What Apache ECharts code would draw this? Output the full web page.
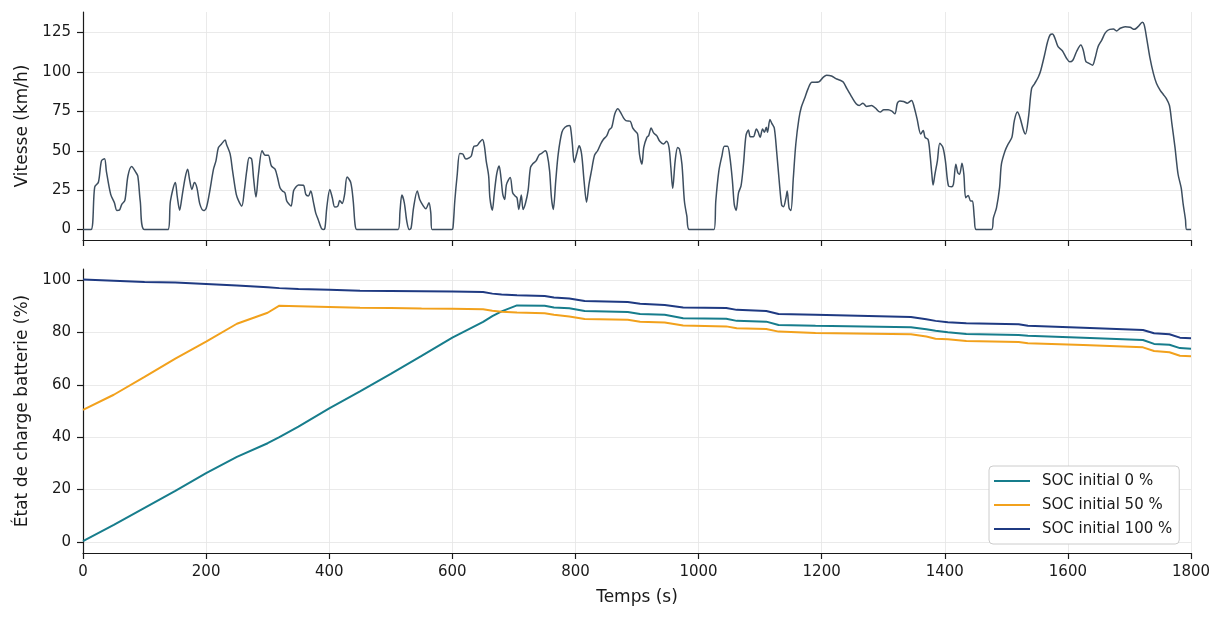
<!DOCTYPE html>
<html>
<head>
<meta charset="utf-8">
<script src="https://cdn.jsdelivr.net/npm/echarts@6/dist/echarts.min.js"></script>
<style>
html,body{margin:0;padding:0;background:#ffffff;}
#chart{width:1224px;height:620px;}
</style>
</head>
<body>
<div id="chart"></div>
<script>
// ---- Data ----
const speedTime = [0,13,19,25,30,35,38,45,51,55,59,63,68,73,79,85,89,93,100,138,142,150,153,157,161,166,170,173,177,181,185,190,196,200,205,212,216,220,225,231,233,239,243,249,253,258,262,266,270,274,277,281,285,291,296,301,306,312,316,320,324,328,331,335,338,342,345,350,358,362,366,370,374,378,382,387,390,393,396,401,405,409,414,417,421,425,429,435,439,442,445,512,515,518,522,526,530,533,537,543,547,553,557,562,565,567,599,601,604,608,612,617,622,628,631,635,640,644,649,652,655,659,661,665,668,672,676,679,682,685,688,694,698,702,705,708,712,715,719,723,727,731,736,741,745,751,754,758,761,764,768,772,778,783,790,792,795,798,802,806,810,814,818,822,826,831,836,841,845,851,855,859,864,869,873,878,882,889,893,897,901,904,908,911,916,919,923,927,932,937,943,948,952,955,958,962,966,969,973,977,981,985,1025,1028,1033,1038,1042,1047,1051,1055,1058,1061,1065,1069,1073,1077,1081,1084,1089,1094,1097,1100,1104,1107,1110,1112,1116,1119,1123,1127,1131,1135,1138,1142,1144,1147,1150,1154,1158,1163,1167,1173,1178,1184,1195,1202,1208,1216,1223,1230,1235,1241,1249,1256,1261,1267,1273,1281,1287,1295,1301,1308,1314,1319,1323,1327,1333,1339,1346,1350,1355,1361,1365,1368,1373,1376,1379,1381,1384,1388,1392,1397,1401,1406,1411,1414,1418,1421,1424,1428,1431,1434,1438,1442,1445,1448,1451,1476,1479,1484,1489,1492,1498,1503,1509,1513,1518,1522,1528,1531,1536,1541,1546,1552,1556,1562,1567,1571,1575,1579,1584,1591,1598,1603,1608,1614,1621,1625,1629,1633,1640,1644,1649,1655,1661,1668,1674,1679,1685,1693,1701,1708,1714,1721,1724,1728,1733,1739,1744,1750,1755,1760,1765,1769,1774,1779,1784,1787,1791,1793,1800];
const speedValue = [0,0,27,30,43.6,45,37,22.3,17,12.1,12.3,16,18.5,34,40,36.8,34,18,0,0,18,29.8,21.3,12.3,21.3,33,38.3,32,25.5,29.8,26.6,16,12.1,13.4,22.3,38.3,43.6,52,54.3,56.8,54.3,48,37.2,22.3,18.1,14.9,24.5,37.2,45.7,44.7,33,20.6,35.1,50,47.2,47.2,40.4,38.3,33,26.6,24.5,23.4,18.1,16,14.9,24.5,26.6,28.3,28.1,22.3,21.3,24.5,18.1,10.6,6.4,1,0,1,13.8,25.5,20.2,14.3,14.9,18.5,16.6,22.3,33.4,29.8,18.1,3.2,0,0,11.7,21.9,17,5.3,0,1,13.8,24.5,19.1,14.9,13.2,17,10.6,0,0,1,18.1,35.1,48.3,47.9,44.7,45.7,46.8,52.8,53.2,55.3,57.2,53.2,43.6,34,20.2,12.3,22.3,35.1,40.4,33,22.3,19.1,28.7,33,23.4,21.3,20.2,12.8,21.9,12.8,17,24.5,39.4,41.9,43.6,47.4,48.3,50,47.9,37.2,20.2,12.8,30.9,47.9,61.7,64.9,66,64.9,54.3,42.6,47.9,53.2,47.9,30.9,17.4,28.7,37.2,47.2,50,54.3,57,59.6,63.4,64.9,73.4,76.6,74.5,70.9,69.1,68.7,64.5,62.5,60.6,47.9,41.5,52.1,58.5,59.6,64.5,61.3,59.6,56,54.3,56,52.1,39.4,26,43.6,52.1,51,41.5,18.1,8.5,0,0,18.1,37.2,46.8,52.8,52.8,45.7,30.9,16,12.1,23.4,27.7,41.5,59.6,63.2,58.9,58.9,63.8,61.7,58.5,63.8,61.7,64.9,61.7,69.8,67.4,64.5,48.9,30.9,15.5,14.5,20.2,24.5,13.8,12.1,33,54.3,70.2,77.7,84,89.4,93.4,93.6,96.4,97.9,97.4,95.7,94.7,93.6,89.4,84,79.8,78.7,80.2,78.1,78.7,77.2,74.5,76,76,75.1,73.4,80.2,81.5,81.3,80.2,81.9,78.1,70.2,60.6,62.8,58.5,57,47.9,35.1,28.3,35.1,43.6,54.7,52.1,43.6,27.7,27.2,28.7,41.5,36.2,35.1,42.1,35.1,20.2,21.7,18.1,18.1,7.4,0,0,7.4,13.8,26.6,41.5,50,54.3,58.5,69.1,74.5,71.3,62.8,60.6,71.3,89.4,92.6,96.8,101.1,110.6,119.1,123.4,124,121.3,116,113.4,108.5,106.4,107.4,112.8,117,113.8,106.8,105.7,104.3,108.5,116,120.2,124.9,127,127.2,126,127.7,128.7,128.3,127,128.7,131.5,129.8,121.3,109.6,98.9,92.6,88.3,85.7,83,78.7,67,52.1,35.1,26.6,17,6.4,0,0];

const socTime = [0,50,100,150,200,250,300,319,350,400,450,500,550,600,650,665,680,705,750,765,790,815,885,905,945,975,1045,1062,1110,1130,1190,1345,1370,1385,1405,1435,1520,1535,1625,1722,1740,1765,1782,1800];
const socFrom0   = [0.3,6.5,13.0,19.5,26.3,32.5,37.7,40.0,44.0,51.0,57.5,64.2,71.0,78.0,84.0,86.2,88.0,90.3,90.2,89.5,89.2,88.2,87.8,87.0,86.7,85.4,85.2,84.4,84.1,82.8,82.5,82.0,81.2,80.6,80.1,79.4,79.0,78.7,78.0,77.1,75.6,75.3,74.0,73.8];
const socFrom50  = [50.4,56.2,63.0,70.0,76.5,83.3,87.5,90.2,90.0,89.7,89.4,89.3,89.1,89.0,88.8,88.3,87.9,87.6,87.3,86.7,86.1,85.1,84.8,84.1,83.8,82.6,82.3,81.6,81.3,80.3,79.8,79.3,78.4,77.6,77.4,76.7,76.3,75.9,75.2,74.3,72.9,72.4,71.1,70.9];
const socFrom100 = [100.2,99.7,99.2,99.0,98.5,97.9,97.2,96.9,96.6,96.3,95.9,95.8,95.7,95.6,95.4,94.8,94.5,94.2,93.9,93.3,92.9,92.0,91.6,90.9,90.5,89.5,89.3,88.6,88.2,87.0,86.7,85.9,85.0,84.4,83.9,83.5,83.1,82.5,81.8,80.9,79.7,79.3,78.0,77.8];

const seriesNames = ['SOC initial 0 %','SOC initial 50 %','SOC initial 100 %'];
const speedTicks = [0,25,50,75,100,125];
const socTicks = [0,20,40,60,80,100];

// ---- Chart ----
const FONT = 'DejaVu Sans';
const INK = '#1a1a1a';
const pairs = (xs, ys) => xs.map((x, i) => [x, ys[i]]);

const axisLineStyle = { color: INK, width: 1.2 };
const gridLineStyle = { color: '#e4e4e4', width: 0.8 };

function xAxisCfg(gridIndex, showLabels) {
  return {
    type: 'value', gridIndex: gridIndex, min: 0, max: 1800, interval: 200,
    axisLine: { show: true, onZero: false, lineStyle: axisLineStyle },
    axisTick: { show: true, inside: false, length: 6, lineStyle: axisLineStyle },
    axisLabel: { show: showLabels, margin: 12, color: INK, fontSize: 15, fontFamily: FONT,
                 formatter: v => String(v) },
    splitLine: { show: true, lineStyle: gridLineStyle }
  };
}
function yAxisCfg(gridIndex, min, max, ticks, name) {
  return {
    type: 'value', gridIndex: gridIndex, min: min, max: max,
    name: name, nameLocation: 'middle', nameGap: 52, nameRotate: 90,
    nameTextStyle: { color: INK, fontSize: 17, fontFamily: FONT },
    axisLine: { show: true, onZero: false, lineStyle: axisLineStyle },
    axisTick: { show: true, inside: false, length: 6, lineStyle: axisLineStyle, customValues: ticks },
    axisLabel: { show: true, margin: 12, color: INK, fontSize: 15, fontFamily: FONT, customValues: ticks,
                 formatter: v => String(v) },
    splitLine: { show: true, lineStyle: gridLineStyle }
  };
}

const xBottom = xAxisCfg(1, true);
xBottom.name = 'Temps (s)';
xBottom.nameLocation = 'middle';
xBottom.nameGap = 36;
xBottom.nameTextStyle = { color: INK, fontSize: 17, fontFamily: FONT, verticalAlign: 'top' };

const option = {
  animation: false,
  backgroundColor: '#ffffff',
  textStyle: { fontFamily: FONT },
  grid: [
    { left: 83, top: 12, width: 1108, height: 228 },
    { left: 83, top: 269, width: 1108, height: 284 }
  ],
  xAxis: [ xAxisCfg(0, false), xBottom ],
  yAxis: [
    yAxisCfg(0, -6.6, 138, speedTicks, 'Vitesse (km/h)'),
    yAxisCfg(1, -4.2, 104.2, socTicks, 'État de charge batterie (%)')
  ],
  legend: {
    data: seriesNames,
    orient: 'vertical',
    left: 989, top: 466,
    padding: [7, 7, 7, 5],
    icon: 'rect',
    itemWidth: 36, itemHeight: 2, itemGap: 8,
    backgroundColor: '#ffffff',
    borderColor: '#cccccc', borderWidth: 1, borderRadius: 4,
    textStyle: { color: INK, fontSize: 15, fontFamily: FONT, lineHeight: 16, padding: [0, 0, 0, 7] }
  },
  series: [
    {
      name: 'Vitesse', type: 'line', xAxisIndex: 0, yAxisIndex: 0,
      data: pairs(speedTime, speedValue), showSymbol: false, symbol: 'none', smooth: 0.3,
      lineStyle: { color: '#3d4e5f', width: 1.5 }, itemStyle: { color: '#3d4e5f' }
    },
    {
      name: seriesNames[0], type: 'line', xAxisIndex: 1, yAxisIndex: 1,
      data: pairs(socTime, socFrom0), showSymbol: false, symbol: 'none',
      lineStyle: { color: '#177d8c', width: 2 }, itemStyle: { color: '#177d8c' }
    },
    {
      name: seriesNames[1], type: 'line', xAxisIndex: 1, yAxisIndex: 1,
      data: pairs(socTime, socFrom50), showSymbol: false, symbol: 'none',
      lineStyle: { color: '#f2a11c', width: 2 }, itemStyle: { color: '#f2a11c' }
    },
    {
      name: seriesNames[2], type: 'line', xAxisIndex: 1, yAxisIndex: 1,
      data: pairs(socTime, socFrom100), showSymbol: false, symbol: 'none',
      lineStyle: { color: '#1f3a82', width: 2 }, itemStyle: { color: '#1f3a82' }
    }
  ]
};

const chart = echarts.init(document.getElementById('chart'), null, { renderer: 'canvas' });
chart.setOption(option);
</script>
</body>
</html>
